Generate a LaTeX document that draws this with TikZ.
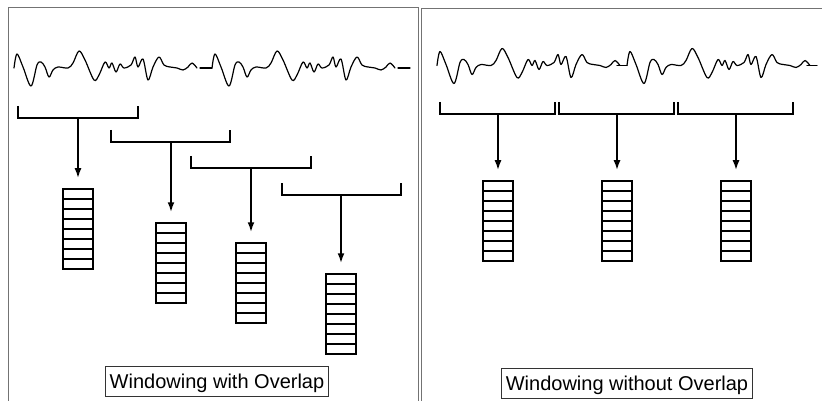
\documentclass[tikz,border=0pt]{standalone}
\usepackage{fontspec}
\setmainfont{Liberation Sans}
\usetikzlibrary{arrows.meta}

\tikzset{
  panel/.style={draw=black!55, line width=1pt},
  wave/.style={line width=1.2pt, line join=round, line cap=round},
  bracketline/.style={line width=2.9pt, line join=miter},
  feed/.style={line width=2.2pt, -{Latex[length=10pt,width=7pt]}, shorten >=10pt},
  stackbox/.style={draw, line width=1.5pt, minimum width=30pt, minimum height=80pt,
    inner sep=0pt,
    path picture={\foreach \k in {1,...,7}{
      \draw[line width=1.5pt]
        ([yshift=-\k*10pt]path picture bounding box.north west) --
        ([yshift=-\k*10pt]path picture bounding box.north east);}}},
  caption/.style={draw=black!80, line width=0.8pt,
    font=\fontsize{20}{24}\selectfont, inner xsep=4.5pt, inner ysep=0pt,
    minimum height=30pt, text height=14.5pt, text depth=0pt},
  % one cycle of the signal; x relative to its start, y absolute
  wavecycle/.pic={
    \draw[wave] plot[smooth, tension=0.55] coordinates {
      (0,68) (3,54) (9,67) (17,86) (23,65) (27,62) (31,67) (35,77) (39,70)
      (44,67) (54,68) (59,63) (65,51) (71,60) (80,80) (85,75) (91,62) (95,68)
      (98,63) (102,72) (106,64) (110,68) (117,65) (121,57) (124,67) (129,59)
      (134,80) (139,67) (145,57) (150,65) (156,67) (163,68) (169,70) (174,67)
      (178,63) (183,68)};
  }
}

\begin{document}
\begin{tikzpicture}[x=1pt, y=-1pt]
\useasboundingbox (0,0) rectangle (822,401);

% panel frames
\draw[panel] (8,410) -- (8,8) -- (418,8) -- (418,410);
\draw[panel] (421,410) -- (421,9) -- (830,9);

% ---------- left: windowing with overlap ----------
\begin{scope}[shift={(14,0)}] \pic {wavecycle}; \end{scope}
\draw[wave] (200,68) -- (212,68);
\begin{scope}[shift={(212,0)}] \pic {wavecycle}; \end{scope}
\draw[wave] (398,68) -- (410,68);

\draw[bracketline] (18,106) -- (18,118) -- (138,118) -- (138,106);
\draw[bracketline] (111,130) -- (111,142) -- (230,142) -- (230,130);
\draw[bracketline] (191,156) -- (191,168) -- (311,168) -- (311,156);
\draw[bracketline] (282,183) -- (282,195) -- (401,195) -- (401,183);

\coordinate (la) at (78,118);
\coordinate (lb) at (171,142);
\coordinate (lc) at (251,168);
\coordinate (ld) at (341,195);

\node[stackbox] (sa) at (78,229) {};
\node[stackbox] (sb) at (171,263) {};
\node[stackbox] (sc) at (251,283) {};
\node[stackbox] (sd) at (341,314) {};

\draw[feed] (la) -- (sa);
\draw[feed] (lb) -- (sb);
\draw[feed] (lc) -- (sc);
\draw[feed] (ld) -- (sd);

\node[caption] (capL) at (217,381.5) {Windowing with Overlap};

% ---------- right: windowing without overlap ----------
\begin{scope}[shift={(437,-2.5)}, xscale=0.96] \pic {wavecycle}; \end{scope}
\draw[wave] (617,65.5) -- (627,65.5);
\begin{scope}[shift={(627,-2.5)}, xscale=0.96] \pic {wavecycle}; \end{scope}
\draw[wave] (807,65.5) -- (817,65.5);

\draw[bracketline] (440,102) -- (440,114) -- (555,114) -- (555,102);
\draw[bracketline] (559,102) -- (559,114) -- (674,114) -- (674,102);
\draw[bracketline] (678,102) -- (678,114) -- (793,114) -- (793,102);

\coordinate (ra) at (498,114);
\coordinate (rb) at (617,114);
\coordinate (rc) at (736,114);

\node[stackbox] (ta) at (498,221) {};
\node[stackbox] (tb) at (617,221) {};
\node[stackbox] (tc) at (736,221) {};

\draw[feed] (ra) -- (ta);
\draw[feed] (rb) -- (tb);
\draw[feed] (rc) -- (tc);

\node[caption] (capR) at (627,383.5) {Windowing without Overlap};
\end{tikzpicture}
\end{document}
